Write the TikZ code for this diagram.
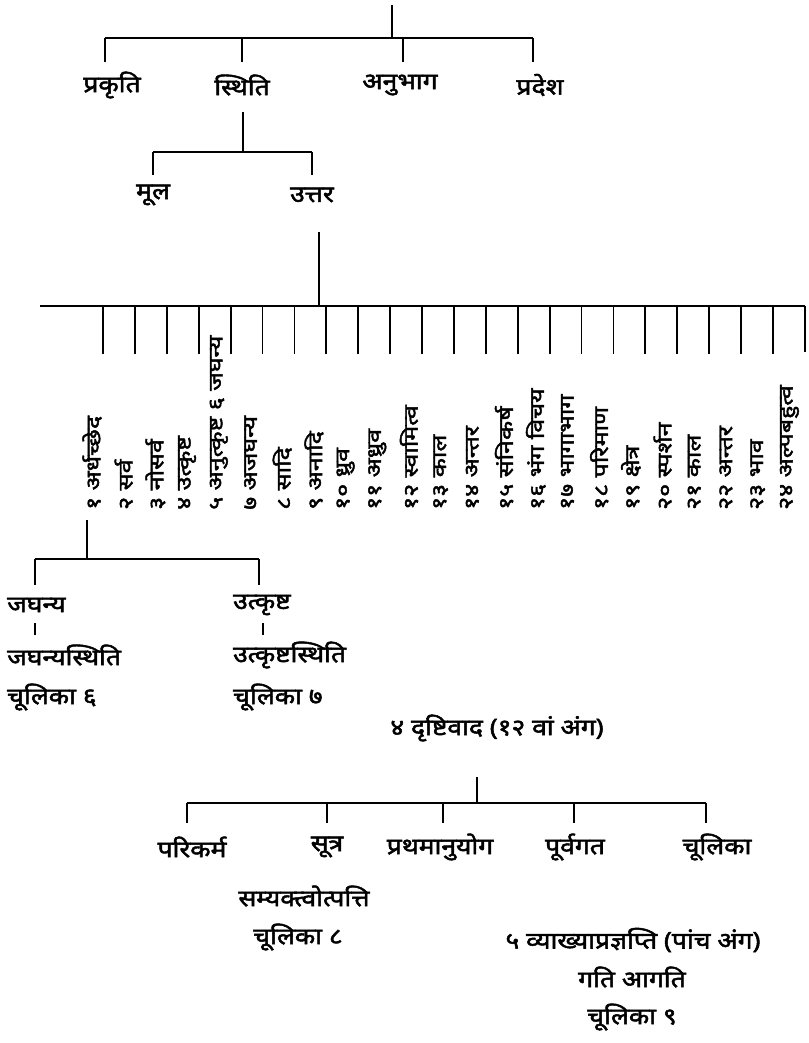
\documentclass[tikz,border=0pt]{standalone}
\usepackage{fontspec}
\newfontfamily\dev[Script=Devanagari,FakeBold=2.2,FakeStretch=1.15]{Noto Sans}
\newfontfamily\devv[Script=Devanagari,FakeBold=2.2,FakeStretch=1.25]{Noto Sans}
\begin{document}
\begin{tikzpicture}[x=1pt,y=-1pt,
  ln/.style={line width=1.8pt},
  lab/.style={font=\dev\fontsize{23}{26}\selectfont, inner sep=0pt},
  vlab/.style={font=\devv\fontsize{20}{22}\selectfont, inner sep=0pt, rotate=90, anchor=west}]
\useasboundingbox (0,0) rectangle (808,1043);

% ---- level 1
\node[lab] (prakriti) at (112,85) {प्रकृति};
\node[lab] (sthiti) at (242,85) {स्थिति};
\node[lab] (anubhag) at (400,85) {अनुभाग};
\node[lab] (pradesh) at (540,85) {प्रदेश};
\coordinate (r0) at (392,5);
\coordinate (r1) at (392,38);
\coordinate (b1a) at (105,38);
\coordinate (b1b) at (242,38);
\coordinate (b1c) at (403,38);
\coordinate (b1d) at (533,38);
\coordinate (e1a) at (105,62);
\coordinate (e1b) at (242,62);
\coordinate (e1c) at (403,62);
\coordinate (e1d) at (533,62);
\draw[ln] (r0) -- (r1);
\draw[ln] (b1a) -- (b1d);
\draw[ln] (b1a) -- (e1a);
\draw[ln] (b1b) -- (e1b);
\draw[ln] (b1c) -- (e1c);
\draw[ln] (b1d) -- (e1d);

% ---- level 2
\node[lab] (mool) at (153,195) {मूल};
\node[lab] (uttar) at (312,195) {उत्तर};
\coordinate (s0) at (243,112);
\coordinate (s1) at (243,152);
\coordinate (b2a) at (153,152);
\coordinate (b2b) at (312,152);
\coordinate (e2a) at (153,175);
\coordinate (e2b) at (312,175);
\draw[ln] (s0) -- (s1);
\draw[ln] (b2a) -- (b2b);
\draw[ln] (b2a) -- (e2a);
\draw[ln] (b2b) -- (e2b);

% ---- level 3 : 24 anuyogadvara
\coordinate (u0) at (319,232);
\coordinate (u1) at (319,306);
\coordinate (b3a) at (40,306);
\coordinate (b3b) at (805,306);
\coordinate (e3b) at (805,352);
\draw[ln] (u0) -- (u1);
\draw[ln] (b3a) -- (b3b);
\draw[ln] (b3b) -- (e3b);
\foreach \k in {0,...,21}{
  \coordinate (tk\k) at ({103+31.9*\k},306);
  \coordinate (te\k) at ({103+31.9*\k},354);
  \draw[ln] (tk\k) -- (te\k);
}
\foreach \t [count=\k from 0] in {१ अर्धच्छेद, २ सर्व, ३ नोसर्व, ४ उत्कृष्ट, ५ अनुत्कृष्ट ६ जघन्य, ७ अजघन्य, ८ सादि, ९ अनादि, १० ध्रुव, ११ अध्रुव, १२ स्वामित्व, १३ काल, १४ अन्तर, १५ संनिकर्ष, १६ भंग विचय, १७ भागाभाग, १८ परिमाण, १९ क्षेत्र, २० स्पर्शन, २१ काल, २२ अन्तर, २३ भाव, २४ अल्पबहुत्व}{
  \node[vlab] (v\k) at ({92+31.7*\k},510) {\t};
}

% ---- jaghanya / utkrishta
\node[lab, anchor=west] (jagh) at (7,605) {जघन्य};
\node[lab, anchor=west] (jaghs) at (7,655) {जघन्यस्थिति};
\node[lab, anchor=west] (chul6) at (7,697) {चूलिका ६};
\node[lab, anchor=west] (utk) at (233,605) {उत्कृष्ट};
\node[lab, anchor=west] (utks) at (233,655) {उत्कृष्टस्थिति};
\node[lab, anchor=west] (chul7) at (233,697) {चूलिका ७};
\coordinate (j0) at (87,520);
\coordinate (j1) at (87,559);
\coordinate (b4a) at (35,559);
\coordinate (b4b) at (259,559);
\coordinate (e4a) at (35,585);
\coordinate (e4b) at (259,585);
\draw[ln] (j0) -- (j1);
\draw[ln] (b4a) -- (b4b);
\draw[ln] (b4a) -- (e4a);
\draw[ln] (b4b) -- (e4b);
\coordinate (ja) at (35,623);
\coordinate (jb) at (35,635);
\coordinate (ua) at (263,623);
\coordinate (ub) at (263,635);
\draw[ln] (ja) -- (jb);
\draw[ln] (ua) -- (ub);

% ---- drishtivada
\node[lab] (drishti) at (497,728) {४ दृष्टिवाद (१२ वां अंग)};
\coordinate (d0) at (477,777);
\coordinate (d1) at (477,803);
\coordinate (b5a) at (187,803);
\coordinate (b5e) at (706,803);
\draw[ln] (d0) -- (d1);
\draw[ln] (b5a) -- (b5e);
\foreach \x [count=\i] in {187,327,443,574,706}{
  \coordinate (p\i) at (\x,803);
  \coordinate (q\i) at (\x,823);
  \draw[ln] (p\i) -- (q\i);
}
\node[lab] (parikarma) at (192,847) {परिकर्म};
\node[lab] (sutra) at (327,847) {सूत्र};
\node[lab] (prathama) at (440,847) {प्रथमानुयोग};
\node[lab] (purvagata) at (575,847) {पूर्वगत};
\node[lab] (chulika) at (717,847) {चूलिका};
\node[lab] (samyak) at (304,896) {सम्यक्त्वोत्पत्ति};
\node[lab] (chul8) at (298,937) {चूलिका ८};
\node[lab] (vyakhya) at (633,940) {५ व्याख्याप्रज्ञप्ति (पांच अंग)};
\node[lab] (gati) at (632,977) {गति आगति};
\node[lab] (chul9) at (632,1017) {चूलिका ९};
\end{tikzpicture}
\end{document}
